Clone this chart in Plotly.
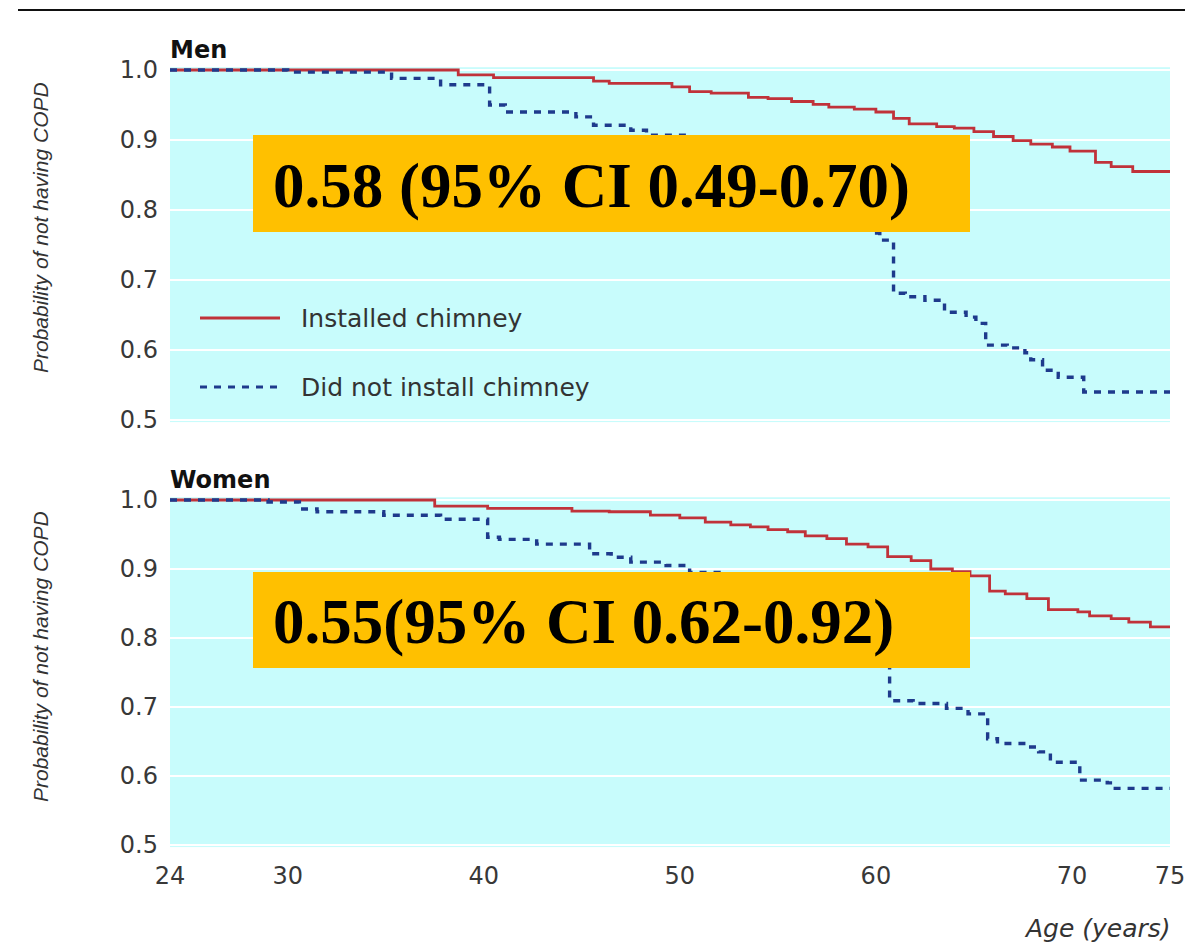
import plotly.graph_objects as go

# ---------------- data ----------------
men_installed_age = [24, 38.7, 40.5, 45.6, 46.4, 49.6, 50.5, 51.6, 53.5, 54.5, 55.7, 56.8, 57.6,
                     58.9, 60.0, 60.9, 61.7, 63.1, 64.0, 65.0, 66.0, 67.0, 67.9, 69.0, 69.9,
                     71.2, 72.0, 73.1, 75]
men_installed_p = [1.0, 0.993, 0.989, 0.984, 0.981, 0.976, 0.969, 0.967, 0.961, 0.959, 0.955, 0.951, 0.947,
                   0.944, 0.940, 0.931, 0.923, 0.919, 0.917, 0.912, 0.905, 0.899, 0.894, 0.890, 0.884,
                   0.868, 0.862, 0.855, 0.855]

men_none_age = [24, 30.0, 35.3, 37.8, 40.3, 41.1, 44.7, 45.6, 47.5, 48.3, 50.5, 52.0, 53.5, 55.0,
                56.5, 57.5, 58.5, 59.3, 59.8, 60.2, 60.9, 61.5, 62.5, 63.5, 64.6, 65.1, 65.6,
                66.7, 67.6, 67.9, 68.5, 69.3, 70.6, 75]
men_none_p = [1.0, 0.997, 0.988, 0.979, 0.950, 0.940, 0.933, 0.921, 0.914, 0.907, 0.895, 0.880, 0.865, 0.845,
              0.830, 0.810, 0.790, 0.775, 0.767, 0.757, 0.681, 0.676, 0.671, 0.654, 0.647, 0.638, 0.607,
              0.603, 0.596, 0.586, 0.571, 0.561, 0.540, 0.540]

women_installed_age = [24, 37.5, 40.2, 44.5, 46.4, 48.5, 50.0, 51.3, 52.6, 53.6, 54.5, 55.5, 56.4,
                       57.5, 58.5, 59.6, 60.6, 61.8, 62.8, 63.9, 64.8, 65.8, 66.6, 67.7, 68.8,
                       70.3, 70.9, 72.0, 72.9, 74.0, 75]
women_installed_p = [1.0, 0.991, 0.988, 0.984, 0.983, 0.978, 0.974, 0.968, 0.964, 0.961, 0.957, 0.954, 0.948,
                     0.944, 0.936, 0.932, 0.918, 0.912, 0.900, 0.896, 0.890, 0.868, 0.864, 0.857, 0.841,
                     0.838, 0.832, 0.828, 0.823, 0.816, 0.816]

women_none_age = [24, 29.0, 30.6, 31.5, 34.9, 37.8, 40.2, 40.8, 42.7, 45.4, 46.5, 47.5, 49.3, 50.5,
                  52.0, 54.0, 56.0, 58.0, 59.5, 60.7, 61.9, 63.6, 64.7, 65.7, 66.2, 67.8, 68.3,
                  68.9, 70.4, 71.8, 72.1, 75]
women_none_p = [1.0, 0.997, 0.987, 0.983, 0.978, 0.972, 0.946, 0.943, 0.936, 0.922, 0.917, 0.910, 0.905, 0.895,
                0.880, 0.860, 0.830, 0.800, 0.770, 0.709, 0.705, 0.698, 0.690, 0.654, 0.647, 0.642, 0.635,
                0.620, 0.594, 0.590, 0.582, 0.582]

x_ticks = [24, 30, 40, 50, 60, 70, 75]
y_ticks = [0.5, 0.6, 0.7, 0.8, 0.9, 1.0]
y_ticklabels = ["0.5", "0.6", "0.7", "0.8", "0.9", "1.0"]

series_names = ["Installed chimney", "Did not install chimney"]
panel_titles = ["Men", "Women"]
hr_labels = ["0.58 (95% CI 0.49-0.70)", "0.55(95% CI 0.62-0.92)"]

# ---------------- styling / layout helpers ----------------
W, H = 1198, 945
RED = "#c0323a"
BLUE = "#1e3a8c"
BG = "#c8fcfc"
SANS = "DejaVu Sans, Verdana, sans-serif"
TICK_FONT = dict(family=SANS, size=24, color="#383838")


def py(p):
    return 1 - p / H


def px(p):
    return p / W


x_dom = [px(170), px(1170)]
men_range = [0.497, 1.004]
women_range = [0.497, 1.004]
men_dom = [py(420 + 0.003 * 700), py(70 - 0.004 * 700)]
women_dom = [py(845 + 0.003 * 690), py(500 - 0.004 * 690)]

fig = go.Figure()

fig.add_trace(go.Scatter(x=men_installed_age, y=men_installed_p, mode="lines", line_shape="hv",
                         line=dict(color=RED, width=2.8), name=series_names[0],
                         xaxis="x", yaxis="y", showlegend=False))
fig.add_trace(go.Scatter(x=men_none_age, y=men_none_p, mode="lines", line_shape="hv",
                         line=dict(color=BLUE, width=3.4, dash="7px,7px"), name=series_names[1],
                         xaxis="x", yaxis="y", showlegend=False))
fig.add_trace(go.Scatter(x=women_installed_age, y=women_installed_p, mode="lines", line_shape="hv",
                         line=dict(color=RED, width=2.8), name=series_names[0],
                         xaxis="x2", yaxis="y2", showlegend=False))
fig.add_trace(go.Scatter(x=women_none_age, y=women_none_p, mode="lines", line_shape="hv",
                         line=dict(color=BLUE, width=3.4, dash="7px,7px"), name=series_names[1],
                         xaxis="x2", yaxis="y2", showlegend=False))

common_x = dict(range=[24, 75], domain=x_dom, tickvals=x_ticks, showgrid=False, zeroline=False,
                showline=False, ticks="", tickfont=TICK_FONT, automargin=False)
common_y = dict(tickvals=y_ticks, ticktext=y_ticklabels, showgrid=True, gridcolor="white",
                gridwidth=2, zeroline=False, showline=False, ticks="", tickfont=TICK_FONT,
                ticklabelstandoff=11, automargin=False)

fig.update_layout(
    width=W, height=H, autosize=False,
    margin=dict(l=0, r=0, t=0, b=0, pad=0),
    paper_bgcolor="white",
    plot_bgcolor=BG,
    xaxis=dict(common_x, anchor="y", showticklabels=False),
    yaxis=dict(common_y, range=men_range, domain=men_dom, anchor="x"),
    xaxis2=dict(common_x, anchor="y2", showticklabels=True, ticklabelstandoff=12),
    yaxis2=dict(common_y, range=women_range, domain=women_dom, anchor="x2"),
    showlegend=False,
)

shapes = []
annotations = []

# top rule
shapes.append(dict(type="line", xref="paper", yref="paper", x0=px(18), x1=px(1185),
                   y0=py(10), y1=py(10), line=dict(color="#111111", width=2)))

# legend (inside men panel)
shapes.append(dict(type="line", xref="paper", yref="paper", x0=px(200), x1=px(280),
                   y0=py(318), y1=py(318), line=dict(color=RED, width=2.8)))
shapes.append(dict(type="line", xref="paper", yref="paper", x0=px(200), x1=px(282),
                   y0=py(387), y1=py(387), line=dict(color=BLUE, width=3.2, dash="7px,7px")))
legend_font = dict(family=SANS, size=25, color="#333333")
annotations.append(dict(xref="paper", yref="paper", x=px(299), y=py(318), xanchor="left",
                        yanchor="middle", text=series_names[0], showarrow=False, font=legend_font))
annotations.append(dict(xref="paper", yref="paper", x=px(299), y=py(387), xanchor="left",
                        yanchor="middle", text=series_names[1], showarrow=False, font=legend_font))

# panel titles
title_font = dict(family=SANS, size=24, color="#111111")
annotations.append(dict(xref="paper", yref="paper", x=px(168), y=py(50), xanchor="left",
                        yanchor="middle", text="<b>%s</b>" % panel_titles[0], showarrow=False,
                        font=title_font))
annotations.append(dict(xref="paper", yref="paper", x=px(168), y=py(480), xanchor="left",
                        yanchor="middle", text="<b>%s</b>" % panel_titles[1], showarrow=False,
                        font=title_font))

# y-axis titles
ytitle_font = dict(family="Liberation Sans, Arial, sans-serif", size=21, color="#333333")
for yc in (228, 657):
    annotations.append(dict(xref="paper", yref="paper", x=px(40), y=py(yc), xanchor="center",
                            yanchor="middle", text="<i>Probability of not having COPD</i>",
                            textangle=-90, showarrow=False, font=ytitle_font))

# x-axis title
annotations.append(dict(xref="paper", yref="paper", x=px(1173), y=py(928), xanchor="right",
                        yanchor="middle", text="<i>Age (years)</i>", showarrow=False,
                        font=dict(family=SANS, size=25, color="#333333")))

# orange hazard-ratio boxes
hr_font = dict(family="Liberation Serif, Times New Roman, serif", size=63, color="black")
for (top, bot, label) in ((135, 232, hr_labels[0]), (572, 668, hr_labels[1])):
    shapes.append(dict(type="rect", xref="paper", yref="paper", x0=px(253), x1=px(970),
                       y0=py(bot), y1=py(top), fillcolor="#ffc000", line=dict(width=0),
                       layer="above"))
    annotations.append(dict(xref="paper", yref="paper", x=px(271), y=py((top + bot) / 2 + 2),
                            xanchor="left", yanchor="middle", text="<b>%s</b>" % label,
                            showarrow=False, font=hr_font))

fig.update_layout(shapes=shapes, annotations=annotations)

fig.write_html(
    "out.html",
    config={"displayModeBar": False},
    post_script=("document.documentElement.style.margin='0';"
                 "document.documentElement.style.padding='0';"
                 "document.body.style.margin='0';document.body.style.padding='0';"),
)
